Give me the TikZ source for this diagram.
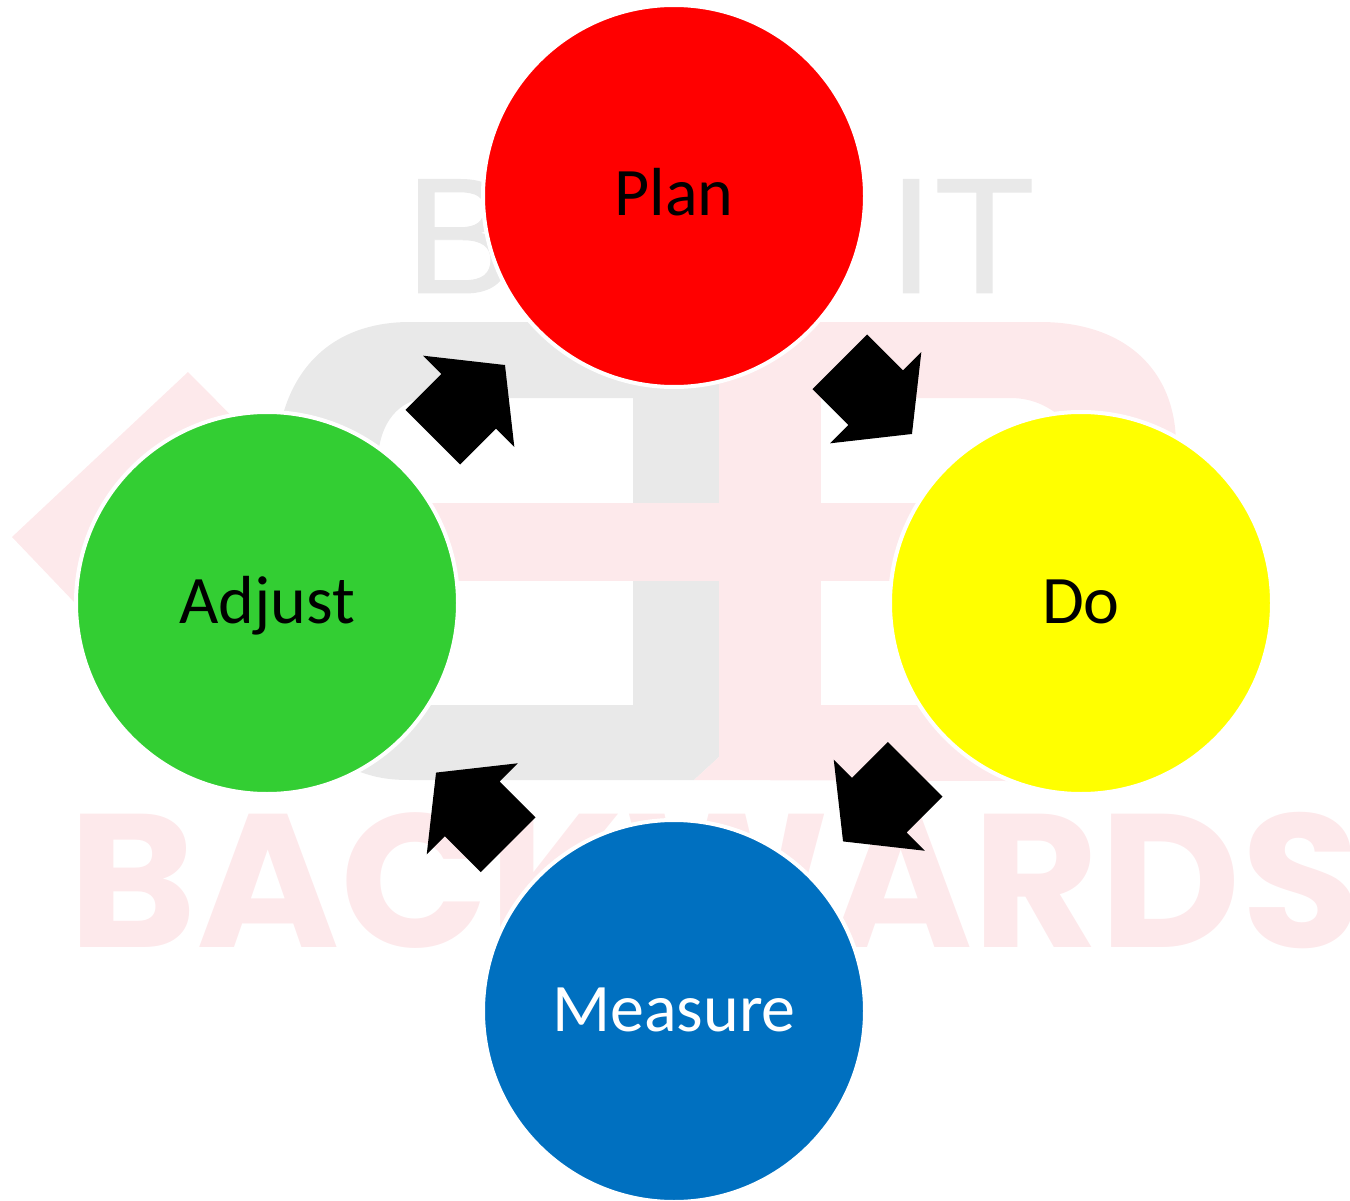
\documentclass[tikz,border=0pt]{standalone}
\usepackage{fontspec}
\setmainfont{Carlito}
\newfontfamily\markfont[FakeStretch=1.025]{Poppins}
\newfontfamily\thinfont[FakeBold=0.6]{Liberation Sans}
\usetikzlibrary{shapes.arrows}
\definecolor{markpink}{HTML}{FDE9EB}
\definecolor{markgray}{HTML}{E9E9E9}
\definecolor{stagered}{HTML}{FF0000}
\definecolor{stageyellow}{HTML}{FFFF00}
\definecolor{stagegreen}{HTML}{33CE33}
\definecolor{stageblue}{HTML}{0070C0}
\tikzset{
  stage/.style={circle,draw=white,line width=4,minimum size=382,inner sep=0,
    text height=40,text depth=0,font=\fontsize{68}{70}\selectfont},
  flowarrow/.style={single arrow,fill=black,inner sep=0,text height=38.5,text depth=38.5,
    minimum height=102,minimum width=128.6,single arrow head extend=25.8,
    single arrow tip angle=103,pos=.407},
  marktext/.style={anchor=base west,inner sep=0,text=markgray,
    font=\thinfont\fontsize{165}{170}\selectfont},
}

\begin{document}
\begin{tikzpicture}[x=1pt,y=-1pt]
  \useasboundingbox (0,0) rectangle (1350,1201);
  \fill[markgray] (282,418) .. controls (297,360) and (340,322) .. (410,322)
    -- (719,322) -- (719,757) -- (694,780) -- (410,780)
    .. controls (390,780) and (375,778) .. (355,770)
    -- (400,705) -- (633,705) -- (633,398) -- (430,398)
    .. controls (405,398) and (382,415) .. (378,455) -- (340,470) -- cycle;
  \fill[markpink] (12,537) -- (188,372) -- (300,485) -- (300,650) -- (75,603) -- cycle;
  \fill[markpink] (300,503) rectangle (950,581);
  \fill[markpink] (719,322) rectangle (821,720);
  \fill[markpink] (821,322) -- (1040,322)
    .. controls (1125,322) and (1176,370) .. (1176,445)
    -- (1176,500) -- (1090,500) -- (1075,430)
    .. controls (1054,408) and (1035,398) .. (1010,398) -- (821,398) -- cycle;
  \fill[markpink] (694,780) -- (719,757) -- (719,705) -- (1040,705) -- (1020,781) -- (1006,781) -- cycle;
  \node[marktext] (markb) at (405,293) {B};
  \node[marktext] (markit) at (888,293) {IT};
  \node[anchor=base west,inner sep=0,text=markpink,font=\markfont\bfseries\fontsize{190}{190}\selectfont]
    (markback) at (68,947) {BACKWARDS};

  \node[stage,fill=stagered] (plan) at (674,196) {Plan};
  \node[stage,fill=stageyellow] (do) at (1081,603) {Do};
  \node[stage,fill=stageblue,text=white] (measure) at (674,1011) {Measure};
  \node[stage,fill=stagegreen] (adjust) at (267,603) {Adjust};

  \path (plan) -- node[flowarrow,rotate=-45] (plantodo) {} (do);
  \path (do) -- node[flowarrow,rotate=-135] (dotomeasure) {} (measure);
  \path (measure) -- node[flowarrow,rotate=135] (measuretoadjust) {} (adjust);
  \path (adjust) -- node[flowarrow,rotate=45] (adjusttoplan) {} (plan);
\end{tikzpicture}
\end{document}
